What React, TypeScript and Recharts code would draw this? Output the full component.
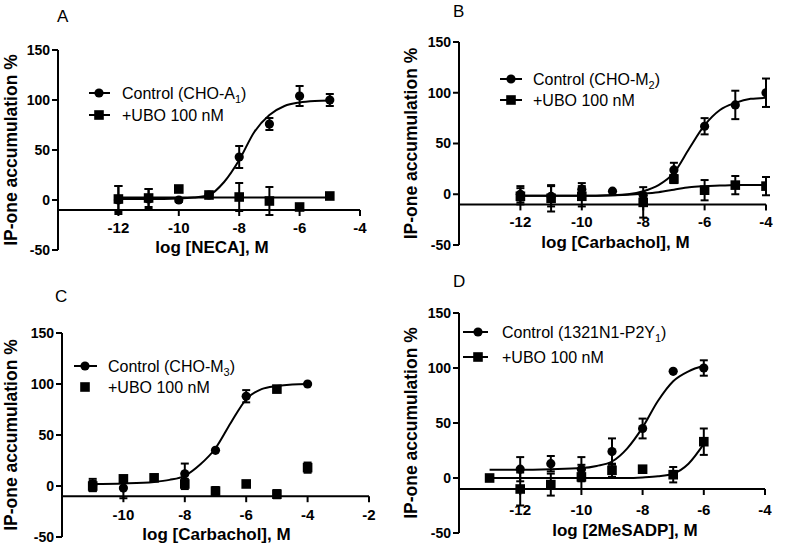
import React from "react";
import {
  ComposedChart,
  XAxis,
  YAxis,
  Line,
  Scatter,
  ErrorBar,
  ReferenceLine,
  Legend,
  Label,
} from "recharts";

const FONT = '"Liberation Sans", Arial, Helvetica, sans-serif';

// ---------- shared ----------
const Y_TICKS = [-50, 0, 50, 100, 150];
const Y_TITLE = "IP-one accumulation %";
const UBO_LABEL = "+UBO 100 nM";

// ---------- Panel A ----------
const A_X = [-12, -11, -10, -9, -8, -7, -6, -5];
const A_CTRL = [0, 1, 0, 5, 43, 76, 104, 100];
const A_CTRL_ERR = [14, 10, 2, 2, 11, 6, 10, 6];
const A_UBO = [1, 2, 11, 5, 3, -1, -7, 4];
const A_UBO_ERR = [13, 9, 0, 0, 14, 14, 0, 3];
const A_FIT_X = [-12, -11, -10, -9.5, -9, -8.5, -8, -7.5, -7, -6.5, -6, -5.5, -5];
const A_CTRL_FIT = [1, 1, 1.5, 2.5, 5, 18, 40, 68, 85, 94, 97.5, 99, 99.5];
const A_UBO_FIT_X = [-12, -5];
const A_UBO_FIT = [2.5, 2.5];
const A_X_TICKS = [-12, -10, -8, -6, -4];
const A_X_TITLE = "log [NECA], M";
const A_CTRL_LABEL = { main: "Control (CHO-A", sub: "1" };

// ---------- Panel B ----------
const B_X_CTRL = [-12, -11, -10, -9, -8, -7, -6, -5, -4];
const B_CTRL = [0, -2, 5, 3, -1, 24, 67, 88, 100];
const B_CTRL_ERR = [8, 10, 6, 0, 0, 7, 8, 14, 14];
const B_X_UBO = [-12, -11, -10, -8, -7, -6, -5, -4];
const B_UBO = [-2, -4, -2, -8, 15, 4, 9, 8];
const B_UBO_ERR = [8, 13, 10, 15, 4, 10, 9, 9];
const B_FIT_X = [-12, -11, -10, -9, -8.5, -8, -7.5, -7, -6.5, -6, -5.5, -5, -4.5, -4];
const B_CTRL_FIT = [-1.5, -1.5, -1.5, -1, 0, 3, 9, 21, 45, 68, 83, 90, 94, 95];
const B_UBO_FIT = [-1.5, -1.5, -1.5, -1, -0.5, 0.5, 2, 4.5, 7, 8, 8.5, 9, 9, 9];
const B_X_TICKS = [-12, -10, -8, -6, -4];
const B_X_TITLE = "log [Carbachol], M";
const B_CTRL_LABEL = { main: "Control (CHO-M", sub: "2" };

// ---------- Panel C ----------
const C_X_CTRL = [-11, -10, -8, -7, -6, -4];
const C_CTRL = [1, -2, 12, 35, 88, 100];
const C_CTRL_ERR = [6, 10, 10, 0, 6, 0];
const C_X_UBO = [-11, -10, -9, -8, -7, -6, -5, -5, -4];
const C_UBO = [0, 7, 8, 2, -5, 2, 95, -8, 18];
const C_UBO_ERR = [5, 3, 3, 5, 4, 3, 3, 4, 5];
const C_FIT_X = [-11, -10, -9, -8.5, -8, -7.5, -7, -6.5, -6, -5.5, -5, -4.5, -4];
const C_CTRL_FIT = [2, 2.5, 4, 6, 10, 21, 37, 62, 85, 95, 98, 99.5, 100];
const C_X_TICKS = [-10, -8, -6, -4, -2];
const C_X_TITLE = "log [Carbachol], M";
const C_CTRL_LABEL = { main: "Control (CHO-M", sub: "3" };

// ---------- Panel D ----------
const D_X_CTRL = [-12, -11, -10, -9, -8, -7, -6];
const D_CTRL = [8, 13, 8, 24, 45, 97, 100];
const D_CTRL_ERR = [11, 7, 11, 12, 9, 0, 7];
const D_X_UBO = [-13, -12, -11, -10, -9, -8, -7, -6];
const D_UBO = [0, -10, -6, 1, 7, 8, 3, 33];
const D_UBO_ERR = [0, 15, 10, 11, 6, 0, 7, 12];
const D_FIT_X = [-13, -12, -11, -10, -9.5, -9, -8.5, -8, -7.5, -7, -6.5, -6];
const D_CTRL_FIT = [7.5, 7.5, 8, 9, 11, 15, 27, 46, 70, 88, 97, 102];
const D_UBO_FIT = [0, 0, 0, 0, 0, 0, 0, 0.5, 1.5, 4, 13, 31];
const D_X_TICKS = [-12, -10, -8, -6, -4];
const D_X_TITLE = "log [2MeSADP], M";
const D_CTRL_LABEL = { main: "Control (1321N1-P2Y", sub: "1" };

type Pt = { x: number; y: number; e: number };
const pts = (xs: number[], ys: number[], es?: number[]): Pt[] =>
  xs.map((x, i) => ({ x, y: ys[i], e: es ? es[i] : 0 }));

const circleShape = (p: any) =>
  p.cx == null || isNaN(p.cx) ? <g /> : <circle cx={p.cx} cy={p.cy} r={4.6} fill="#000" />;
const squareShape = (p: any) =>
  p.cx == null || isNaN(p.cx) ? (
    <g />
  ) : (
    <rect x={p.cx - 4.8} y={p.cy - 4.8} width={9.6} height={9.6} fill="#000" />
  );

type Cfg = {
  left: number;
  top: number;
  width: number;
  height: number;
  marginTop: number;
  marginRight: number;
  yAxisWidth: number;
  xAxisHeight: number;
  xDomain: [number, number];
  xTicks: number[];
  xTickDy: number;
  xTitle: string;
  xTitleY: number;
  xTitleDx: number;
  letter: string;
  letterX: number;
  letterY: number;
  ctrl: Pt[];
  ubo: Pt[];
  ctrlFit: Pt[];
  uboFit: Pt[] | null;
  ctrlLabel: { main: string; sub: string };
  legLineX1: number;
  legLineX2: number;
  legMarkX: number;
  legTextX: number;
  legRow1: number;
  legRow2: number;
  uboLegendLine: boolean;
};

const PANELS: Cfg[] = [
  {
    left: 0, top: 0, width: 400, height: 270, marginTop: 50, marginRight: 40,
    yAxisWidth: 58, xAxisHeight: 20, xDomain: [-14, -4], xTicks: A_X_TICKS, xTickDy: 23,
    xTitle: A_X_TITLE, xTitleY: 253, xTitleDx: 3, letter: "A", letterX: 57, letterY: 22,
    ctrl: pts(A_X, A_CTRL, A_CTRL_ERR), ubo: pts(A_X, A_UBO, A_UBO_ERR),
    ctrlFit: pts(A_FIT_X, A_CTRL_FIT), uboFit: pts(A_UBO_FIT_X, A_UBO_FIT),
    ctrlLabel: A_CTRL_LABEL, legLineX1: 89, legLineX2: 110, legMarkX: 99, legTextX: 122,
    legRow1: 93, legRow2: 115, uboLegendLine: true,
  },
  {
    left: 400, top: 0, width: 400, height: 265, marginTop: 42, marginRight: 34,
    yAxisWidth: 59, xAxisHeight: 20, xDomain: [-14, -4], xTicks: B_X_TICKS, xTickDy: 23,
    xTitle: B_X_TITLE, xTitleY: 248, xTitleDx: 3, letter: "B", letterX: 53, letterY: 17,
    ctrl: pts(B_X_CTRL, B_CTRL, B_CTRL_ERR), ubo: pts(B_X_UBO, B_UBO, B_UBO_ERR),
    ctrlFit: pts(B_FIT_X, B_CTRL_FIT), uboFit: pts(B_FIT_X, B_UBO_FIT),
    ctrlLabel: B_CTRL_LABEL, legLineX1: 100, legLineX2: 122, legMarkX: 111, legTextX: 133,
    legRow1: 79, legRow2: 100, uboLegendLine: true,
  },
  {
    left: 0, top: 270, width: 400, height: 275, marginTop: 63, marginRight: 31,
    yAxisWidth: 62, xAxisHeight: 8, xDomain: [-12, -2], xTicks: C_X_TICKS, xTickDy: 24,
    xTitle: C_X_TITLE, xTitleY: 270, xTitleDx: 1, letter: "C", letterX: 55, letterY: 32,
    ctrl: pts(C_X_CTRL, C_CTRL, C_CTRL_ERR), ubo: pts(C_X_UBO, C_UBO, C_UBO_ERR),
    ctrlFit: pts(C_FIT_X, C_CTRL_FIT), uboFit: null,
    ctrlLabel: C_CTRL_LABEL, legLineX1: 74, legLineX2: 97, legMarkX: 85, legTextX: 108,
    legRow1: 96, legRow2: 117, uboLegendLine: false,
  },
  {
    left: 400, top: 270, width: 400, height: 275, marginTop: 43, marginRight: 35,
    yAxisWidth: 59, xAxisHeight: 12, xDomain: [-14, -4], xTicks: D_X_TICKS, xTickDy: 26,
    xTitle: D_X_TITLE, xTitleY: 266, xTitleDx: 13, letter: "D", letterX: 53, letterY: 17,
    ctrl: pts(D_X_CTRL, D_CTRL, D_CTRL_ERR), ubo: pts(D_X_UBO, D_UBO, D_UBO_ERR),
    ctrlFit: pts(D_FIT_X, D_CTRL_FIT), uboFit: pts(D_FIT_X, D_UBO_FIT),
    ctrlLabel: D_CTRL_LABEL, legLineX1: 63, legLineX2: 88, legMarkX: 78, legTextX: 102,
    legRow1: 62, legRow2: 87, uboLegendLine: true,
  },
];

function Panel({ cfg }: { cfg: Cfg }) {
  const plotTop = cfg.marginTop;
  const plotBottom = cfg.height - cfg.xAxisHeight;
  const plotH = plotBottom - plotTop;
  const plotLeft = cfg.yAxisWidth;
  const plotRight = cfg.width - cfg.marginRight;
  const yLine = plotTop + ((150 - -10) / 200) * plotH;
  const plotCx = (plotLeft + plotRight) / 2;
  const plotCy = (plotTop + plotBottom) / 2;

  const renderXTick = (p: any) => (
    <g>
      <line x1={p.x} x2={p.x} y1={yLine} y2={yLine + 6} stroke="#000" strokeWidth={2} />
      <text
        x={p.x}
        y={yLine + cfg.xTickDy}
        textAnchor="middle"
        fontSize={15}
        fontWeight="bold"
        fontFamily={FONT}
        fill="#000"
      >
        {p.payload.value}
      </text>
    </g>
  );

  const legendContent = () => (
    <svg
      width={cfg.width}
      height={cfg.height}
      style={{ position: "absolute", left: 0, top: 0, overflow: "visible" }}
    >
      <line x1={cfg.legLineX1} x2={cfg.legLineX2} y1={cfg.legRow1} y2={cfg.legRow1} stroke="#000" strokeWidth={2} />
      <circle cx={cfg.legMarkX} cy={cfg.legRow1} r={4.6} fill="#000" />
      <text x={cfg.legTextX} y={cfg.legRow1 + 6} fontSize={16} fontFamily={FONT} fill="#000">
        {cfg.ctrlLabel.main}
        <tspan fontSize={11} dy={4}>
          {cfg.ctrlLabel.sub}
        </tspan>
        <tspan dy={-4}>)</tspan>
      </text>
      {cfg.uboLegendLine && (
        <line x1={cfg.legLineX1} x2={cfg.legLineX2} y1={cfg.legRow2} y2={cfg.legRow2} stroke="#000" strokeWidth={2} />
      )}
      <rect x={cfg.legMarkX - 4.8} y={cfg.legRow2 - 4.8} width={9.6} height={9.6} fill="#000" />
      <text x={cfg.legTextX} y={cfg.legRow2 + 6} fontSize={16} fontFamily={FONT} fill="#000">
        {UBO_LABEL}
      </text>
    </svg>
  );

  return (
    <div style={{ position: "absolute", left: cfg.left, top: cfg.top, width: cfg.width, height: cfg.height }}>
      <ComposedChart
        width={cfg.width}
        height={cfg.height}
        margin={{ top: cfg.marginTop, right: cfg.marginRight, bottom: 0, left: 0 }}
      >
        <XAxis
          type="number"
          dataKey="x"
          domain={cfg.xDomain}
          ticks={cfg.xTicks}
          allowDataOverflow
          interval={0}
          height={cfg.xAxisHeight}
          axisLine={false}
          tickLine={false}
          tick={renderXTick}
        >
          <Label
            content={() => (
              <text
                x={plotCx + cfg.xTitleDx}
                y={cfg.xTitleY}
                textAnchor="middle"
                fontSize={17}
                fontWeight="bold"
                fontFamily={FONT}
                fill="#000"
              >
                {cfg.xTitle}
              </text>
            )}
          />
        </XAxis>
        <YAxis
          type="number"
          dataKey="y"
          domain={[-50, 150]}
          ticks={Y_TICKS}
          allowDataOverflow
          interval={0}
          width={cfg.yAxisWidth}
          axisLine={{ stroke: "#000", strokeWidth: 2 }}
          tickLine={{ stroke: "#000", strokeWidth: 2 }}
          tickSize={6}
          tickMargin={2}
          tick={{ fill: "#000", fontSize: 14, fontWeight: "bold", fontFamily: FONT }}
        >
          <Label
            content={() => (
              <text
                x={11}
                y={plotCy}
                transform={`rotate(-90 11 ${plotCy})`}
                textAnchor="middle"
                dominantBaseline="central"
                fontSize={17.5}
                fontWeight="bold"
                fontFamily={FONT}
                fill="#000"
              >
                {Y_TITLE}
              </text>
            )}
          />
        </YAxis>
        <ReferenceLine y={-10} stroke="#000" strokeWidth={2} />
        <Line
          data={cfg.ctrlFit}
          dataKey="y"
          type="monotone"
          stroke="#000"
          strokeWidth={2}
          dot={false}
          activeDot={false}
          isAnimationActive={false}
          legendType="none"
        />
        {cfg.uboFit && (
          <Line
            data={cfg.uboFit}
            dataKey="y"
            type="monotone"
            stroke="#000"
            strokeWidth={2}
            dot={false}
            activeDot={false}
            isAnimationActive={false}
            legendType="none"
          />
        )}
        <Scatter data={cfg.ubo} dataKey="y" shape={squareShape} isAnimationActive={false}>
          <ErrorBar dataKey="e" direction="y" width={4} stroke="#000" strokeWidth={2} isAnimationActive={false} />
        </Scatter>
        <Scatter data={cfg.ctrl} dataKey="y" shape={circleShape} isAnimationActive={false}>
          <ErrorBar dataKey="e" direction="y" width={4} stroke="#000" strokeWidth={2} isAnimationActive={false} />
        </Scatter>
        <Legend
          verticalAlign="middle"
          align="center"
          layout="horizontal"
          content={legendContent}
          wrapperStyle={{ left: 0, top: 0, width: cfg.width, height: cfg.height, pointerEvents: "none" }}
        />
      </ComposedChart>
      <svg
        width={cfg.width}
        height={cfg.height}
        style={{ position: "absolute", left: 0, top: 0, pointerEvents: "none" }}
      >
        <text x={cfg.letterX} y={cfg.letterY} fontSize={17} fontFamily={FONT} fill="#000">
          {cfg.letter}
        </text>
      </svg>
    </div>
  );
}

export default function App() {
  return (
    <div
      style={{
        position: "absolute",
        left: 0,
        top: 0,
        width: 800,
        height: 545,
        background: "#fff",
        overflow: "hidden",
      }}
    >
      {PANELS.map((cfg) => (
        <Panel key={cfg.letter} cfg={cfg} />
      ))}
    </div>
  );
}
